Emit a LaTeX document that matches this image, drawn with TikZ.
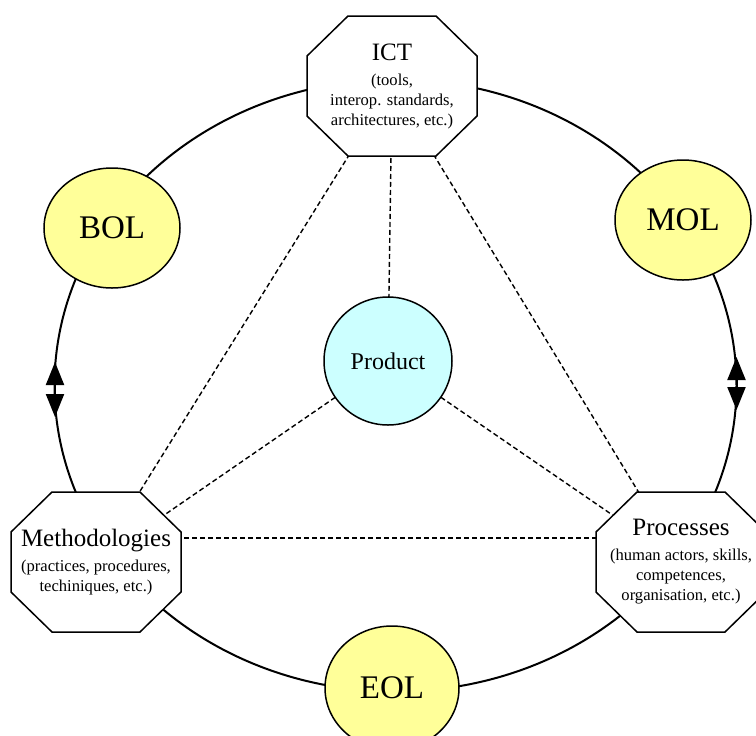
\documentclass[tikz,border=0pt]{standalone}
\usepackage{fontspec}
\setmainfont{Liberation Serif}
\usetikzlibrary{shapes.geometric,arrows.meta}
\definecolor{lifeyellow}{HTML}{FFFF99}
\definecolor{prodcyan}{HTML}{CCFFFF}
\newcommand{\headsize}{\fontsize{12.5}{15}\selectfont}
\newcommand{\notesize}{\fontsize{8.3}{10}\selectfont}
\pgfdeclarelayer{background}
\pgfsetlayers{background,main}

\begin{document}
\begin{tikzpicture}[x=0.5pt, y=-0.5pt,
  octa/.style={rectangle, minimum width=86pt, minimum height=71pt, inner sep=0pt,
    align=center, font=\notesize,
    path picture={
      \draw[line width=0.75pt, fill=white]
        ([shift={(21pt,-0.5pt)}]path picture bounding box.north west)
        -- ([shift={(-21pt,-0.5pt)}]path picture bounding box.north east)
        -- ([shift={(-0.5pt,-20.5pt)}]path picture bounding box.north east)
        -- ([shift={(-0.5pt,20.5pt)}]path picture bounding box.south east)
        -- ([shift={(-21pt,0.5pt)}]path picture bounding box.south east)
        -- ([shift={(21pt,0.5pt)}]path picture bounding box.south west)
        -- ([shift={(0.5pt,20.5pt)}]path picture bounding box.south west)
        -- ([shift={(0.5pt,-20.5pt)}]path picture bounding box.north west) -- cycle;}},
  phase/.style={ellipse, draw, line width=0.75pt, fill=lifeyellow, minimum width=68pt,
    minimum height=60pt, inner sep=0pt, font=\fontsize{16.5}{20}\selectfont},
  link/.style={dash pattern=on 2.5pt off 1.5pt, line width=0.7pt},
  tip/.style={{Triangle[length=11.5pt,width=9pt]}-{Triangle[length=11.5pt,width=9pt]}}]
\useasboundingbox (0,0) rectangle (756,735);

% Phases and pillars
\node[octa] (ict) at (392,86) {{\headsize ICT}\\[2.5pt](tools,\\interop. standards,\\architectures, etc.)};
\node[octa] (meth) at (96,562) {{\headsize Methodologies}\\[2.5pt](practices, procedures,\\techiniques, etc.)};
\node[octa] (proc) at (681,562) {{\headsize Processes}\\[2.5pt](human actors, skills,\\competences,\\organisation, etc.)};
\node[phase] (bol) at (112,228) {BOL};
\node[phase] (mol) at (683,220) {MOL};
\node[phase, minimum width=67pt, minimum height=62pt] (eol) at (392,688) {EOL};
\node[circle, draw, line width=0.75pt, fill=prodcyan, minimum size=64pt, inner sep=0pt,
  font=\fontsize{12}{14}\selectfont] (prod) at (388,361) {Product};

\begin{pgfonlayer}{background}
% The life cycle ring
\coordinate (ring) at (395.5,385.5);
\draw[line width=1pt] (ring) ellipse [x radius=341, y radius=306];
% Dashed links
\draw[link] (ict.center) -- (prod.center);
\draw[link] (ict.center) -- (meth.center);
\draw[link] (ict.center) -- (proc.center);
\draw[link] (prod.center) -- (meth.center);
\draw[link] (prod.center) -- (proc.center);
\draw[link] ([yshift=12pt]meth.center) -- ([yshift=12pt]proc.center);
\end{pgfonlayer}

% Two-way arrows on the ring
\coordinate (lefttop) at (55,362);
\coordinate (leftbot) at (55,417);
\coordinate (righttop) at (736.5,357);
\coordinate (rightbot) at (736.5,410);
\draw[line width=1pt, tip] (leftbot) -- (lefttop);
\draw[line width=1pt, tip] (rightbot) -- (righttop);
\end{tikzpicture}
\end{document}
